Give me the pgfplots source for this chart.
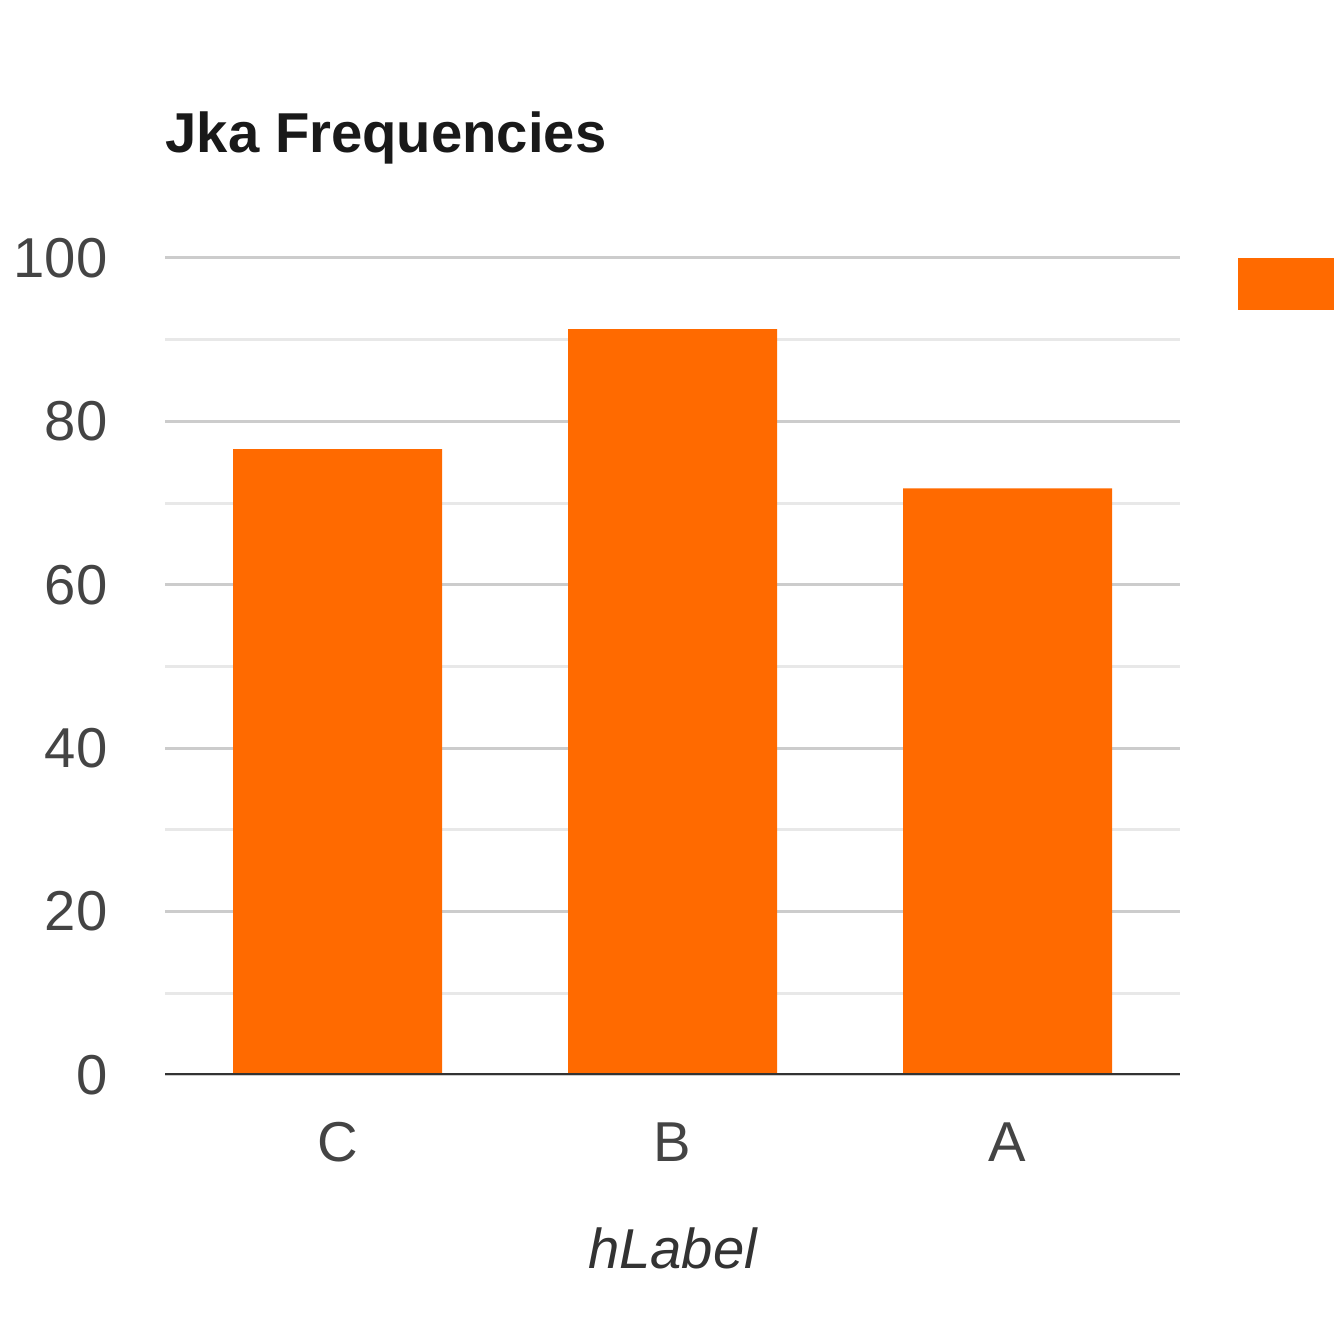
\documentclass[border=0pt]{standalone}
\usepackage{fontspec}
\setmainfont{Liberation Sans}
\usepackage{pgfplots}
\pgfplotsset{compat=1.18}

\definecolor{barorange}{HTML}{FF6A00}
\definecolor{majgrid}{HTML}{CCCCCC}
\definecolor{mingrid}{HTML}{E8E8E8}
\definecolor{basecol}{HTML}{333333}
\definecolor{ticktext}{HTML}{444444}

\begin{document}
\begin{tikzpicture}
% picture is 13.34cm square, 1cm = 100px of the reference
\useasboundingbox (0,0) rectangle (13.34,13.34);
\begin{axis}[
  at={(1.65cm,2.59cm)}, anchor=south west,
  scale only axis,
  width=10.15cm, height=8.17cm,
  ybar, bar width=2.09cm, bar shift=0pt,
  xmin=-0.515, xmax=2.515,
  ymin=0, ymax=100,
  xtick=data, xticklabels={C,B,A},
  ytick={0,20,40,60,80,100},
  minor y tick num=1,
  major tick length=0pt, minor tick length=0pt,
  axis line style={draw=none},
  ymajorgrids, yminorgrids,
  major grid style={majgrid, line width=0.85pt},
  minor grid style={mingrid, line width=0.85pt},
  /pgf/number format/assume math mode=true,
  tick label style={font=\fontsize{16}{16}\selectfont, text=ticktext},
  yticklabel style={anchor=east, inner sep=0pt, xshift=-0.57cm},
  xticklabel style={anchor=north, inner sep=0pt, yshift=-0.47cm},
  title={Jka Frequencies},
  title style={font=\fontsize{16}{16}\selectfont\bfseries, text=black!90,
    at={(rel axis cs:0,1)}, anchor=base west, inner sep=0pt, yshift=0.84cm},
  xlabel={hLabel},
  xlabel style={font=\fontsize{16}{16}\selectfont\itshape, text=basecol,
    at={(rel axis cs:0.5,0)}, anchor=base, inner sep=0pt, yshift=-1.93cm},
]
\addplot[fill=barorange, draw=none] coordinates {
  (0,76.6) (1,91.3) (2,71.8)
};
\draw[basecol, line width=1.1pt] (rel axis cs:0,0) -- (rel axis cs:1,0);
\end{axis}
% legend key, cut by the right edge as in the reference
\fill[barorange] (12.38,13.34-2.58) rectangle (13.60,13.34-3.10);
\end{tikzpicture}
\end{document}
